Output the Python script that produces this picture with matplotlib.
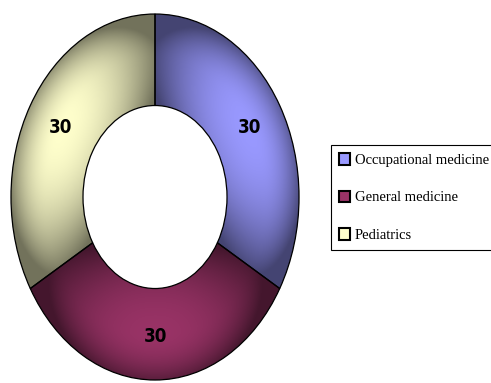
import numpy as np
import matplotlib
matplotlib.use('Agg')
import matplotlib.pyplot as plt
from matplotlib.patches import Patch

# data
specialties = ['Occupational medicine', 'General medicine', 'Pediatrics']
counts = [30, 30, 30]
colors = ['#9999FF', '#993366', '#FFFFCC']

fig = plt.figure(figsize=(4.91, 3.83), dpi=100)
ax = fig.add_axes([0.0224, 0.0078, 0.5866, 0.9556])

wedges, _ = ax.pie(counts, colors=colors, startangle=90, counterclock=False,
                   radius=1, wedgeprops=dict(width=0.5, edgecolor='black', linewidth=0.9))
ax.set_xlim(-1, 1)
ax.set_ylim(-1, 1)
ax.set_aspect('auto')

# bevel-like shading clipped to each wedge
n = 500
xs = np.linspace(-1, 1, n)
X, Y = np.meshgrid(xs, xs)
R = np.hypot(X, Y)
A = np.degrees(np.arctan2(Y, X))
for i, (w, c) in enumerate(zip(wedges, colors)):
    mid = (w.theta1 + w.theta2) / 2
    half = (w.theta2 - w.theta1) / 2
    d = ((A - mid + 180) % 360) - 180
    ta = np.abs(d) / half
    tr = (R - 0.75) / 0.25
    shade = 0.5 * ta ** 2.2 + 0.4 * np.clip(tr, 0, None) ** 2 + 0.12 * np.clip(-tr, 0, None) ** 2
    shade = np.clip(shade, 0, 0.55)
    base = np.array(matplotlib.colors.to_rgb(c))
    img = base[None, None, :] * (1 - shade[..., None])
    im = ax.imshow(img, extent=(-1, 1, -1, 1), origin='lower', aspect='auto',
                   interpolation='bilinear', zorder=1)
    im.set_clip_path(w)
    w.set_facecolor('none')
    w.set_zorder(3)
    w.set_clip_on(False)

    ang = np.radians(mid)
    ax.text(0.76 * np.cos(ang), 0.76 * np.sin(ang), str(counts[i]),
            ha='center', va='center', fontsize=13.5, fontweight='bold',
            family='DejaVu Sans', fontstretch='condensed', zorder=4)

ax.axis('off')

handles = [Patch(facecolor=c, edgecolor='black', linewidth=1.5) for c in colors]
leg = fig.legend(handles, specialties, loc='upper left',
                 bbox_to_anchor=(331 / 491, 1 - 145 / 383),
                 prop=dict(family='Liberation Serif', size=10.5),
                 frameon=True, fancybox=False, edgecolor='black', framealpha=1,
                 labelspacing=1.62, handlelength=0.75, handleheight=0.85,
                 handletextpad=0.35, borderpad=0.55, borderaxespad=0)
leg.get_frame().set_linewidth(0.8)

plt.savefig('out.png', dpi=100)
